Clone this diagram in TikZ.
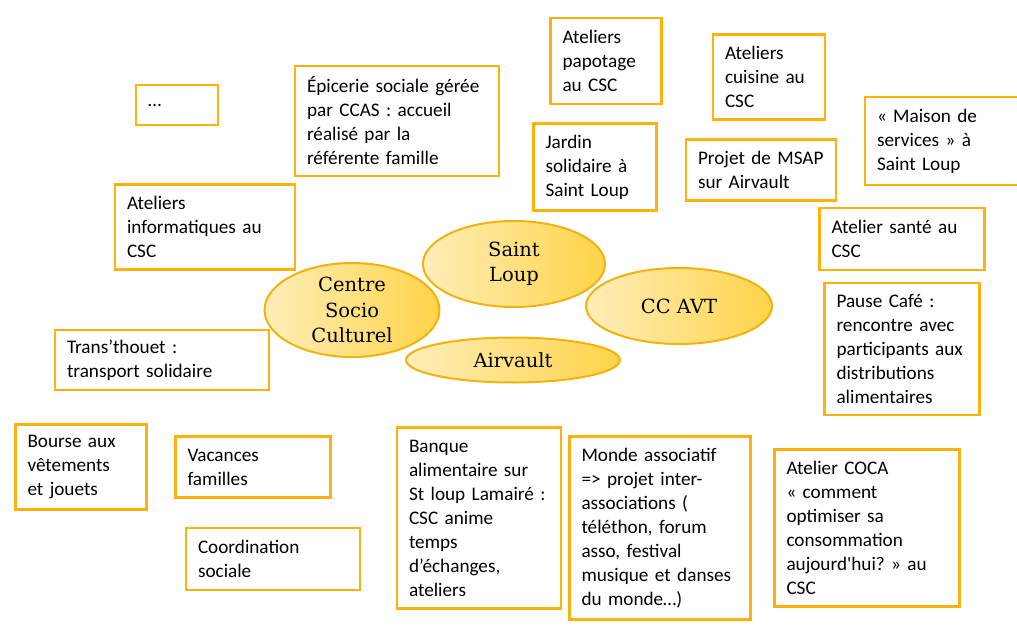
\documentclass[tikz,border=0pt]{standalone}
\usepackage{fontspec}
\usepackage{tikz}
\usetikzlibrary{shapes.geometric, positioning}
\newfontfamily\boxfont{Carlito}
\newfontfamily\hubfont{DejaVu Serif}
\definecolor{boxline}{HTML}{FFB20A}
\definecolor{hubline}{HTML}{F2B20F}
\definecolor{hublight}{HTML}{FFEEBA}
\definecolor{hubdark}{HTML}{FFD448}
\frenchspacing

\begin{document}
\begin{tikzpicture}[
        x=1pt, y=-1pt,
        item/.style 2 args={rectangle, draw=boxline, line width=2.6pt, fill=white, text width=#1pt-24pt, inner xsep=12pt, inner ysep=0pt, minimum height=#2pt, align=left, font=\boxfont\fontsize{19.2}{24}\selectfont\frenchspacing},
        hub/.style 2 args={ellipse, draw=hubline, line width=2pt, left color=hublight, right color=hubdark, minimum width=#1pt, minimum height=#2pt, inner sep=0pt, align=center, text=black, font=\hubfont\fontsize{19.5}{25.5}\selectfont}
    ]
        \useasboundingbox (0,0) rectangle (1017,631);

        % centre of the map
        \node [hub={175}{94}] (csc) at (352,310) {Centre\\Socio\\Culturel};
        \node [hub={182}{86}] (stloup) at (514,264) {Saint\\Loup};
        \node [hub={186}{76}] (ccavt) at (679,306) {CC AVT};
        \node [hub={214}{45}] (airvault) at (513,360) {Airvault};

        % actions around it
        \node [item={82}{40}] (dots) at (177,105) {\dots};
        \node [item={204}{110}] (epicerie) at (397,121) {Épicerie sociale gérée\\par CCAS : accueil\\réalisé par la\\référente famille};
        \node [item={111}{86}] (papotage) at (606,61) {Ateliers\\papotage\\au CSC};
        \node [item={112}{85}] (cuisine) at (769,77) {Ateliers\\cuisine au\\CSC};
        \node [item={154}{88}] (maison) at (942,141) {« Maison de\\services » à\\Saint Loup};
        \node [item={123}{87}] (jardin) at (595,167) {Jardin\\solidaire à\\Saint Loup};
        \node [item={150}{61}] (msap) at (761,170) {Projet de~MSAP\\sur Airvault};
        \node [item={180}{85}] (info) at (205,227) {Ateliers\\informatiques au\\CSC};
        \node [item={165}{62}] (sante) at (902,239) {Atelier santé au\\CSC};
        \node [item={155}{132}] (pause) at (902,349) {Pause Café :\\rencontre avec\\participants~aux\\distributions\\alimentaires};
        \node [item={214}{60}] (trans) at (162,360) {Trans’thouet :\\transport solidaire};
        \node [item={131}{85}] (bourse) at (81,467) {Bourse aux\\vêtements\\et jouets};
        \node [item={155}{61}] (vacances) at (253,467) {Vacances\\familles};
        \node [item={174}{62}] (coord) at (273,559) {Coordination\\sociale};
        \node [item={164}{181}] (banque) at (479,518) {Banque\\alimentaire sur\\St loup Lamairé :\\CSC anime\\temps\\d’échanges,\\ateliers};
        \node [item={181}{183}] (monde) at (660,528) {Monde associatif\\=> projet inter-\\associations (\\téléthon, forum\\asso, festival\\musique et danses\\du monde…)};
        \node [item={185}{157}] (coca) at (867,528) {Atelier COCA\\« comment\\optimiser sa\\consommation\\aujourd'hui? » au\\CSC};
    \end{tikzpicture}
\end{document}
